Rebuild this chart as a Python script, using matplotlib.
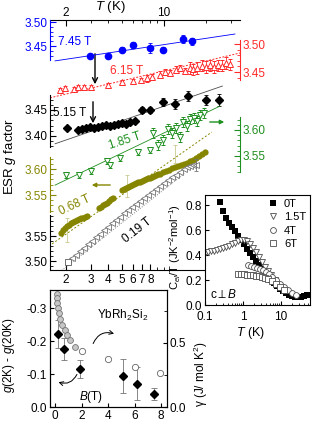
import numpy as np
import matplotlib
matplotlib.use('Agg')
import matplotlib.pyplot as plt
from matplotlib.ticker import FixedLocator, FixedFormatter, NullFormatter

plt.rcParams['font.family'] = ['Liberation Sans', 'DejaVu Sans']
plt.rcParams['mathtext.fontset'] = 'custom'
plt.rcParams['mathtext.rm'] = 'Liberation Sans'
plt.rcParams['mathtext.it'] = 'Liberation Sans:italic'
plt.rcParams['font.size'] = 8
plt.rcParams['axes.linewidth'] = 0.8

# ---------------- ESR g factor vs T (one set per field) ----------------
T_745 = [2.97, 4.0, 5.0, 6.0, 7.96, 9.9, 13.7, 15.9]
g_745 = [3.429, 3.429, 3.442, 3.452, 3.446, 3.442, 3.465, 3.460]
e_745 = [0.005, 0.004, 0.005, 0.006, 0.011, 0.005, 0.008, 0.007]
fit_745_T = [1.67, 32.2]
fit_745_g = [3.419, 3.475]

T_615 = [1.81, 1.97, 2.28, 2.44, 2.69, 3.02, 3.99, 5.02, 6.02, 6.87, 7.58, 8.23, 9.38, 10.2, 11.1,
         12.2, 13.0, 14.2, 15.4, 16.2, 17.3, 18.7, 20.0, 21.4, 22.8, 24.4, 26.0, 27.8, 29.7]
g_615 = [3.418, 3.421, 3.420, 3.423, 3.423, 3.423, 3.427, 3.432, 3.434, 3.436, 3.439, 3.441, 3.445, 3.450, 3.448,
         3.454, 3.457, 3.452, 3.457, 3.455, 3.457, 3.461, 3.459, 3.462, 3.459, 3.462, 3.461, 3.466, 3.464]
e_615 = [0.004] * 10 + [0.006] * 8 + [0.010] * 11
fit_615_T = [1.54, 35.0]
fit_615_g = [3.404, 3.484]

T_515 = [2.03, 2.44, 2.60, 2.78, 2.97, 3.17, 3.39, 3.62, 3.86, 4.12, 4.41, 4.70, 5.02, 5.37, 5.73,
         6.22, 6.98, 7.96, 9.86, 12.0, 14.9, 20.0, 24.8]
g_515 = [3.415, 3.412, 3.414, 3.415, 3.417, 3.415, 3.417, 3.419, 3.421, 3.419, 3.421, 3.423, 3.425, 3.423, 3.427,
         3.429, 3.450, 3.450, 3.465, 3.462, 3.477, 3.469, 3.469]
e_515 = [0.003] * 16 + [0.006, 0.006, 0.008, 0.010, 0.010, 0.010, 0.012]
fit_515_T = [1.67, 26.2]
fit_515_g = [3.385, 3.496]

T_185 = [2.0, 2.48, 3.02, 3.93, 4.12, 4.86, 6.54, 7.96, 8.36, 9.08, 9.86, 10.7, 11.4, 12.2, 13.0,
         13.7, 14.6, 15.4, 16.4, 17.3, 18.1, 19.4]
g_185 = [3.514, 3.514, 3.521, 3.540, 3.533, 3.546, 3.558, 3.562, 3.594, 3.571, 3.581, 3.602, 3.594, 3.604, 3.587,
         3.615, 3.608, 3.621, 3.623, 3.617, 3.629, 3.633]
e_185 = [0.006] * 8 + [0.010] * 14
fit_185_T = [1.67, 25.2]
fit_185_g = [3.494, 3.646]

T_068 = [1.84, 1.90, 1.97, 2.03, 2.10, 2.17, 2.24, 2.32, 2.40, 2.48, 2.56, 2.65, 2.73, 2.83,
         3.44, 3.56, 3.68, 3.80, 3.93, 4.06, 4.19, 4.33,
         5.02, 5.19, 5.37, 5.55, 5.73, 5.92, 6.12, 6.32, 6.54, 6.76, 6.98, 7.21, 7.46, 7.71, 7.96, 8.23,
         8.50, 8.79, 9.08, 9.38, 9.86, 10.36, 10.88, 11.43, 12.01, 12.62, 13.26, 13.93, 14.63, 15.37,
         16.15, 16.97, 17.83, 18.73, 19.67]
g_068 = [3.477, 3.483, 3.487, 3.490, 3.492, 3.496, 3.498, 3.500, 3.502, 3.504, 3.506, 3.506, 3.508, 3.510,
         3.525, 3.527, 3.531, 3.533, 3.535, 3.538, 3.542, 3.544,
         3.560, 3.562, 3.563, 3.565, 3.567, 3.569, 3.571, 3.573, 3.575, 3.575, 3.577, 3.579, 3.581, 3.583,
         3.583, 3.585, 3.587, 3.588, 3.590, 3.590, 3.594, 3.596, 3.598, 3.602, 3.604, 3.606, 3.608, 3.610,
         3.612, 3.615, 3.617, 3.621, 3.625, 3.629, 3.633]
err_068_T = [2.03, 5.45, 12.0]
err_068_g = [3.483, 3.567, 3.629]
err_068_e = [0.023, 0.021, 0.017]
fit_068_T = [1.59, 22.0]
fit_068_g = [3.456, 3.671]

T_019 = [2.07, 2.21, 2.36, 2.52, 2.69, 2.87, 3.07, 3.28, 3.50, 3.74, 3.99, 4.26, 4.55, 4.86, 5.19, 5.55,
         5.92, 6.32, 6.76, 7.21, 7.71, 8.23, 8.79, 9.38, 10.02, 10.71, 11.43, 12.21, 13.04, 13.93, 14.63,
         15.37, 16.15, 16.97]
g_019 = [3.498, 3.506, 3.512, 3.520, 3.526, 3.534, 3.540, 3.548, 3.554, 3.562, 3.568, 3.576, 3.582, 3.588,
         3.596, 3.602, 3.608, 3.614, 3.620, 3.626, 3.632, 3.638, 3.644, 3.650, 3.656, 3.662, 3.668, 3.672,
         3.678, 3.684, 3.688, 3.690, 3.692, 3.692]
err_019_T = [16.97]
err_019_g = [3.692]
err_019_e = [0.011]
fit_019_T = [1.75, 14.0]
fit_019_g = [3.475, 3.675]

# ---------------- inset: C_el/T vs T ----------------
T_0T = [0.207, 0.248, 0.298, 0.357, 0.428, 0.513, 0.616, 0.739, 0.886, 1.06, 1.27, 1.53, 1.83, 2.20, 2.64,
        3.16, 3.79, 4.55, 5.46, 6.54, 7.85, 9.41, 11.3, 13.5, 16.2, 19.5, 23.4, 28.0, 33.6, 40.3, 48.3]
C_0T = [0.896, 0.824, 0.752, 0.696, 0.660, 0.624, 0.592, 0.552, 0.520, 0.488, 0.448, 0.416, 0.384, 0.352,
        0.320, 0.288, 0.256, 0.232, 0.200, 0.176, 0.152, 0.128, 0.112, 0.096, 0.080, 0.072, 0.064, 0.064,
        0.064, 0.072, 0.080]
T_15T = [0.105, 0.120, 0.144, 0.172, 0.207, 0.248, 0.298, 0.357, 0.428, 0.513, 0.616, 0.739, 0.886, 1.06,
         1.27, 1.53, 1.83, 2.20, 2.64, 3.16, 3.79, 4.55, 5.46, 6.95]
C_15T = [0.424, 0.424, 0.432, 0.432, 0.440, 0.448, 0.456, 0.464, 0.472, 0.488, 0.496, 0.512, 0.520, 0.520,
         0.512, 0.488, 0.456, 0.424, 0.384, 0.344, 0.304, 0.272, 0.240, 0.200]
T_4T = [1.35, 1.62, 1.95, 2.34, 2.80, 3.36, 4.03, 4.83, 5.80, 7.39, 9.41, 12.0, 15.3, 19.5, 24.8]
C_4T = [0.320, 0.312, 0.304, 0.296, 0.288, 0.280, 0.264, 0.248, 0.224, 0.200, 0.168, 0.144, 0.120, 0.096, 0.080]
T_6T = [0.739, 0.886, 1.06, 1.27, 1.53, 1.83, 2.20, 2.64, 3.16, 3.79, 4.55, 5.80, 7.39, 9.41, 12.0]
C_6T = [0.248, 0.248, 0.248, 0.240, 0.240, 0.240, 0.232, 0.232, 0.224, 0.216, 0.208, 0.192, 0.168, 0.144, 0.120]

# ---------------- bottom: g(2K)-g(20K) and gamma vs B ----------------
B_esr = [0.19, 0.68, 1.85, 5.15, 6.15, 7.45]
dg_esr = [-0.221, -0.176, -0.116, -0.093, -0.070, -0.040]
dg_err = [0.042, 0.033, 0.027, 0.052, 0.050, 0.018]
B_gam1 = [0.15, 0.15, 0.15, 0.23, 0.30, 0.38, 0.53, 0.75, 0.90, 1.13, 1.50]
gam1 = [0.883, 0.852, 0.810, 0.773, 0.734, 0.688, 0.640, 0.600, 0.563, 0.523, 0.469]
B_gam2 = [2.0, 4.0, 6.0, 7.9]
gam2 = [0.438, 0.375, 0.313, 0.262]

W, H = 312, 423


def fpos(x, y):
    return (x / W, 1 - y / H)


def box(x0, y0, x1, y1):
    return [x0 / W, 1 - y1 / H, (x1 - x0) / W, (y1 - y0) / H]


fig = plt.figure(figsize=(3.12, 4.23), dpi=100)
main_box = box(50, 20, 240, 270)
Tlim = (1.537, 35.0)

base = fig.add_axes(main_box, facecolor='none')
base.set_xscale('log')
base.set_xlim(Tlim)
base.set_yticks([])
for s in ['left', 'right', 'top']:
    base.spines[s].set_visible(False)
base.xaxis.set_major_locator(FixedLocator([2, 3, 4, 5, 6, 7, 8]))
base.xaxis.set_major_formatter(FixedFormatter(['2', '3', '4', '5', '6', '7', '8']))
base.xaxis.set_minor_locator(FixedLocator([9, 10, 20, 30]))
base.xaxis.set_minor_formatter(NullFormatter())
base.tick_params(axis='x', which='major', direction='in', length=4, pad=3, labelsize=8.5)
base.tick_params(axis='x', which='minor', direction='in', length=2)

top = base.twiny()
top.set_xscale('log')
top.set_xlim(Tlim)
for s in ['left', 'right', 'bottom']:
    top.spines[s].set_visible(False)
top.xaxis.set_major_locator(FixedLocator([2, 10]))
top.xaxis.set_major_formatter(FixedFormatter(['2', '10']))
top.xaxis.set_minor_locator(FixedLocator([3, 4, 5, 6, 7, 8, 9, 20, 30]))
top.xaxis.set_minor_formatter(NullFormatter())
top.tick_params(axis='x', which='major', direction='in', length=4, pad=1, labelsize=8.5)
top.tick_params(axis='x', which='minor', direction='in', length=2)


def group_axes(ylim, side, bounds, major, color):
    ax = fig.add_axes(main_box, facecolor='none')
    ax.set_xscale('log')
    ax.set_xlim(Tlim)
    ax.set_ylim(ylim)
    for s in ax.spines.values():
        s.set_visible(False)
    ax.spines[side].set_visible(True)
    ax.spines[side].set_bounds(*bounds)
    ax.spines[side].set_color(color)
    ax.xaxis.set_visible(False)
    if side == 'right':
        ax.yaxis.tick_right()
    else:
        ax.yaxis.tick_left()
    ax.yaxis.set_major_locator(FixedLocator(major))
    ax.yaxis.set_major_formatter(FixedFormatter(['%.2f' % v for v in major]))
    lo = int(np.ceil(bounds[0] * 100 - 1e-6))
    hi = int(np.floor(bounds[1] * 100 + 1e-6))
    ax.yaxis.set_minor_locator(FixedLocator([k / 100 for k in range(lo, hi + 1)]))
    ax.tick_params(axis='y', which='major', direction='in', length=4, width=0.8,
                   color=color, labelcolor=color, pad=1.5, labelsize=8.5)
    ax.tick_params(axis='y', which='minor', direction='in', length=2, width=0.6, color=color)
    return ax


ebkw = dict(capsize=1.5, elinewidth=0.6, capthick=0.6, lw=0)

c_blue, c_red, c_green, c_olive = '#0000ff', '#ff2a2a', '#1f8f1f', '#858500'

ax1 = group_axes((2.9833, 3.5042), 'left', (3.4208, 3.5042), [3.45, 3.50], c_blue)
ax1.plot(fit_745_T, fit_745_g, color=c_blue, lw=0.6)
ax1.errorbar(T_745, g_745, yerr=e_745, fmt='o', color=c_blue, ms=4.5, **ebkw)

ax2 = group_axes((3.0964, 3.5429), 'right', (3.4357, 3.5071), [3.45, 3.50], c_red)
ax2.plot(fit_615_T, fit_615_g, color=c_red, lw=0.7, ls=(0, (2, 1.5)))
ax2.errorbar(T_615, g_615, yerr=e_615, fmt='^', color=c_red, mfc='white', mew=0.7, ms=4, **ebkw)

ax3 = group_axes((3.1423, 3.623), 'left', (3.3788, 3.4788), [3.40, 3.45], 'black')
ax3.plot(fit_515_T, fit_515_g, color='0.3', lw=0.6)
ax3.errorbar(T_515, g_515, yerr=e_515, fmt='D', color='black', ms=4, **ebkw)

ax4 = group_axes((3.3308, 3.8115), 'right', (3.519, 3.625), [3.55, 3.60], c_green)
ax4.plot(fit_185_T, fit_185_g, color=c_green, lw=0.6)
ax4.errorbar(T_185, g_185, yerr=e_185, fmt='v', color=c_green, mfc='white', mew=0.7, ms=4.5, **ebkw)

ax5 = group_axes((3.4058, 3.8865), 'left', (3.5173, 3.623), [3.55, 3.60], c_olive)
ax5.plot(fit_068_T, fit_068_g, color=c_olive, lw=0.7, ls=(0, (2, 2)))
ax5.errorbar(err_068_T, err_068_g, yerr=err_068_e, fmt='none', ecolor='#c9c98f', **ebkw)
ax5.plot(T_068, g_068, 'o', color=c_olive, ms=4.5, mew=0)

ax6 = group_axes((3.482, 3.982), 'left', (3.482, 3.592), [3.50, 3.55], 'black')
ax6.plot(fit_019_T, fit_019_g, color='0.5', lw=0.7, ls=(0, (1, 1.5)))
ax6.plot(T_019[:1], g_019[:1], 's', mfc='white', mec='0.35', ms=4, mew=0.6)
ax6.plot(T_019[1:], g_019[1:], '<', mfc='white', mec='0.45', ms=4, mew=0.6)
ax6.errorbar(err_019_T, err_019_g, yerr=err_019_e, fmt='none', ecolor='0.45', **ebkw)

# series labels and arrows
fig.text(*fpos(58, 42), '7.45 T', color=c_blue, fontsize=8.5, va='center')
fig.text(*fpos(127, 71), '6.15 T', color=c_red, fontsize=8.5, va='center', ha='center')
fig.text(*fpos(53, 113), '5.15 T', color='black', fontsize=8.5, va='center')
fig.text(*fpos(125, 141), '1.85 T', color=c_green, fontsize=8.5, va='center', ha='center', rotation=18)
fig.text(*fpos(75, 205), '0.68 T', color=c_olive, fontsize=8.5, va='center', ha='center', rotation=25)
fig.text(*fpos(137, 230), '0.19 T', color='black', fontsize=8.5, va='center', ha='center', rotation=38)

akw = dict(xycoords='figure fraction', textcoords='figure fraction')
base.annotate('', xy=fpos(95, 87), xytext=fpos(95, 51), **akw,
              arrowprops=dict(arrowstyle='->', color='black', lw=1.0, mutation_scale=9))
base.annotate('', xy=fpos(93, 126), xytext=fpos(93, 99), **akw,
              arrowprops=dict(arrowstyle='->', color='black', lw=1.0, mutation_scale=9))
base.annotate('', xy=fpos(227, 122), xytext=fpos(207, 122), **akw,
              arrowprops=dict(arrowstyle='-|>', color=c_green, lw=1.0, mutation_scale=6))
base.annotate('', xy=fpos(89, 185), xytext=fpos(113, 185), **akw,
              arrowprops=dict(arrowstyle='-|>', color=c_olive, lw=1.0, mutation_scale=6))

fig.text(*fpos(10, 157), 'ESR $g$ factor', rotation=90, va='center', ha='center', fontsize=9.5)
fig.text(*fpos(110, 7), '$T$ (K)', va='center', ha='center', fontsize=9.5)

# ---------------- inset ----------------
axi = fig.add_axes(box(205, 195, 310, 305))
axi.set_xscale('log')
axi.set_xlim(0.1, 58)
axi.set_ylim(0, 0.88)
axi.plot(T_0T, C_0T, 's', color='black', ms=4.4, mew=0, label='0T')
axi.plot(T_15T, C_15T, 'v', mfc='white', mec='0.3', ms=4.3, mew=0.6, label='1.5T')
axi.plot(T_4T, C_4T, 'o', mfc='white', mec='0.3', ms=4.2, mew=0.6, label='4T')
axi.plot(T_6T, C_6T, 's', mfc='white', mec='0.3', ms=4, mew=0.6, label='6T')
axi.set_xticks([0.1, 1, 10])
axi.set_xticklabels(['0.1', '1', '10'])
axi.set_yticks([0, 0.2, 0.4, 0.6, 0.8])
axi.set_yticklabels(['0.0', '0.2', '0.4', '0.6', '0.8'])
axi.tick_params(which='major', direction='in', length=3, pad=2, labelsize=8.5)
axi.tick_params(axis='x', which='major', pad=4.5)
axi.tick_params(which='minor', direction='in', length=1.5)
axi.legend(loc='upper right', frameon=False, fontsize=8, handlelength=0.8, handletextpad=0.6,
           labelspacing=0.3, borderaxespad=0.15, borderpad=0.2)
axi.text(0.05, 0.06, 'c$\\perp B$', transform=axi.transAxes, fontsize=8.5)
fig.text(*fpos(251, 333), '$T$ (K)', va='center', ha='center', fontsize=9)
fig.text(*fpos(175, 247), 'C$_{el}$/T (JK$^{-2}$mol$^{-1}$)', rotation=90, va='center', ha='center', fontsize=8)

# ---------------- bottom panel ----------------
axb = fig.add_axes(box(50, 290, 167, 407))
axb.set_xlim(-0.38, 8.45)
axb.set_ylim(0, -0.355)
axb.errorbar(B_esr, dg_esr, yerr=dg_err, fmt='D', color='black', ecolor='0.45', ms=4.5,
             capsize=2, elinewidth=0.6, capthick=0.6)
axb.set_xticks([0, 2, 4, 6, 8])
axb.set_yticks([-0.3, -0.2, -0.1, 0.0])
axb.set_yticklabels(['-0.3', '-0.2', '-0.1', '0.0'])
axb.tick_params(direction='in', length=3, pad=2, labelsize=8.5)

axb2 = axb.twinx()
axb2.set_ylim(0, 0.914)
axb2.plot(B_gam1, gam1, 'o', mfc='0.78', mec='0.45', ms=4.2, mew=0.6)
axb2.plot(B_gam2, gam2, 'o', mfc='white', mec='0.4', ms=4.5, mew=0.6)
axb2.set_yticks([0.0, 0.5])
axb2.set_yticklabels(['0.0', '0.5'])
axb2.yaxis.set_minor_locator(FixedLocator([0.25, 0.75]))
axb2.tick_params(which='major', direction='in', length=3, pad=2, labelsize=8.5)
axb2.tick_params(which='minor', direction='in', length=2)

axb.annotate('', xy=(0.57, 0.62), xytext=(0.36, 0.52), xycoords='axes fraction',
             arrowprops=dict(arrowstyle='->', color='black', lw=0.7,
                             connectionstyle='arc3,rad=-0.5', mutation_scale=7))
axb.annotate('', xy=(0.05, 0.22), xytext=(0.24, 0.30), xycoords='axes fraction',
             arrowprops=dict(arrowstyle='->', color='black', lw=0.7,
                             connectionstyle='arc3,rad=-0.5', mutation_scale=7))
fig.text(*fpos(97, 315), 'YbRh$_2$Si$_2$', va='center', fontsize=8.5)
fig.text(*fpos(91, 397), '$B$(T)', va='center', ha='center', fontsize=8.5)
fig.text(*fpos(9, 355), '$g$(2K) - $g$(20K)', rotation=90, va='center', ha='center', fontsize=8.5)
fig.text(*fpos(201, 374), 'γ (J/ mol K$^2$)', rotation=90, va='center', ha='center', fontsize=8.5)

fig.savefig('out.png', dpi=100)
